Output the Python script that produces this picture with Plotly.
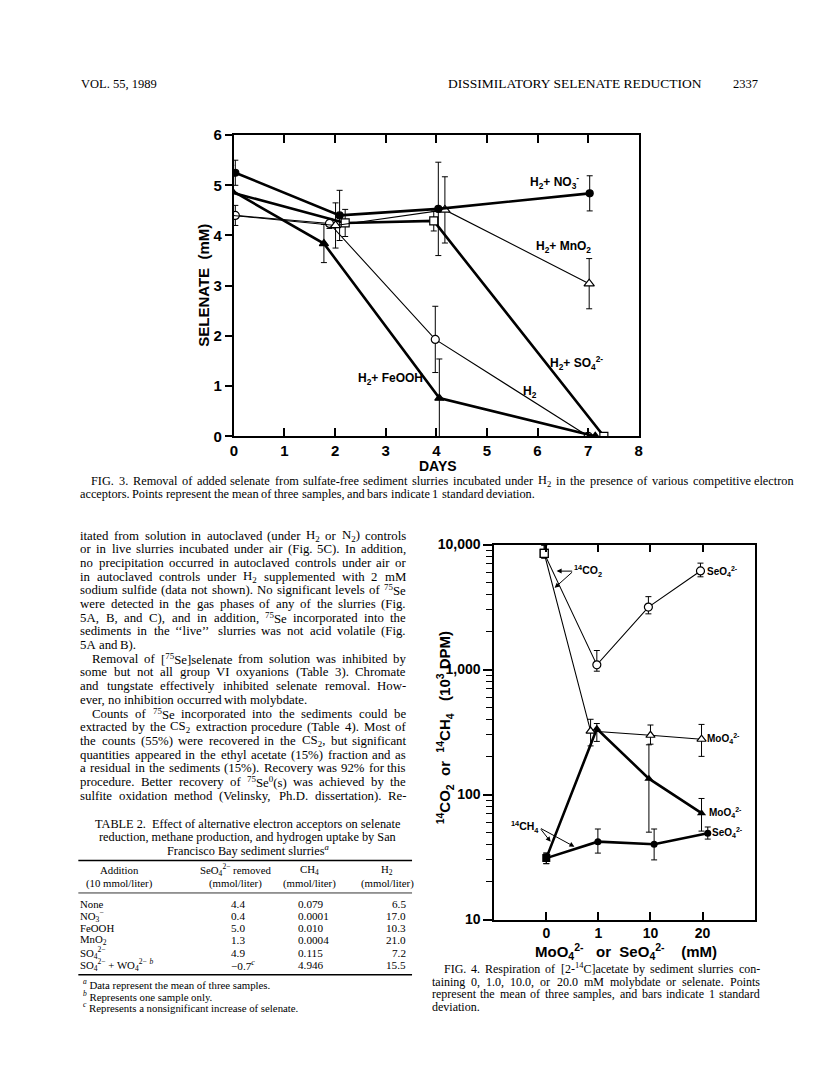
import re
import plotly.graph_objects as go

W, H = 816, 1078
def px(x): return x / W
def py(y): return 1 - y / H

# ---------------- FIG. 3 data (days, selenate mM, SD) ----------------
days_no3 = [0.03, 2.09, 4.04, 7.03]
sel_no3 = [5.25, 4.40, 4.53, 4.84]
sd_no3 = [0.25, 0.50, 0.93, 0.35]

days_mno2 = [-0.14, 2.01, 4.17, 7.02]
sel_mno2 = [4.41, 4.20, 4.51, 3.04]
sd_mno2 = [0.25, 0.45, 0.66, 0.50]

days_so4 = [-0.20, 2.20, 3.95, 7.31]
sel_so4 = [4.90, 4.25, 4.29, 0.0]
sd_so4 = [0.30, 0.27, 0.20, 0.0]

days_feooh = [-0.05, 1.78, 4.06, 7.14]
sel_feooh = [4.90, 3.84, 0.76, 0.0]
sd_feooh = [0.50, 0.38, 0.78, 0.0]

days_h2 = [0.03, 1.89, 3.98, 7.00]
sel_h2 = [4.40, 4.24, 1.93, 0.0]
sd_h2 = [0.20, 0.10, 0.66, 0.0]

# ---------------- FIG. 4 data (category index, 10^3 DPM) ----------------
conc_labels = ["0", "1", "10", "20"]

co2_se_x = [-0.04, 0.97, 1.96, 2.96]
co2_se_y = [8500, 1090, 3160, 6150]
co2_se_hi = [1400, 330, 670, 950]
co2_se_lo = [700, 120, 370, 630]

co2_mo_x = [-0.04, 0.85, 2.00, 2.98]
co2_mo_y = [8500, 322, 298, 277]
co2_mo_hi = [1400, 78, 62, 87]
co2_mo_lo = [700, 77, 45, 75]

ch4_mo_x = [0.0, 0.97, 1.97, 2.98]
ch4_mo_y = [31, 336, 134, 71]
ch4_mo_hi = [3, 34, 116, 22]
ch4_mo_lo = [3, 70, 84, 20]

ch4_se_x = [0.0, 0.99, 2.07, 3.10]
ch4_se_y = [31, 42, 40, 49]
ch4_se_hi = [3, 11, 13, 6]
ch4_se_lo = [3, 8, 10, 5]

# ---------------- TABLE 2 ----------------
tbl_addition = ["None", "NO<sub>3</sub><sup>−</sup>", "FeOOH", "MnO<sub>2</sub>",
                "SO<sub>4</sub><sup>2−</sup>",
                "SO<sub>4</sub><sup>2−</sup> + WO<sub>4</sub><sup>2−</sup> <sup><i>b</i></sup>"]
tbl_seo4 = ["4.4", "0.4", "5.0", "1.3", "4.9", "−0.7<sup><i>c</i></sup>"]
tbl_ch4 = ["0.079", "0.0001", "0.010", "0.0004", "0.115", "4.946"]
tbl_h2 = ["6.5", "17.0", "10.3", "21.0", "7.2", "15.5"]

# (text, indent, justified)
body_lines = [
    ("itated from solution in autoclaved (under H<sub>2</sub> or N<sub>2</sub>) controls", 0, True),
    ("or in live slurries incubated under air (Fig. 5C). In addition,", 0, True),
    ("no precipitation occurred in autoclaved controls under air or", 0, True),
    ("in autoclaved controls under H<sub>2</sub> supplemented with 2 mM", 0, True),
    ("sodium sulfide (data not shown). No significant levels of <sup>75</sup>Se", 0, True),
    ("were detected in the gas phases of any of the slurries (Fig.", 0, True),
    ("5A, B, and C), and in addition, <sup>75</sup>Se incorporated into the", 0, True),
    ("sediments in the ‘‘live’’ slurries was not acid volatile (Fig.", 0, True),
    ("5A and B).", 0, False),
    ("Removal of [<sup>75</sup>Se]selenate from solution was inhibited by", 12, True),
    ("some but not all group VI oxyanions (Table 3). Chromate", 0, True),
    ("and tungstate effectively inhibited selenate removal. How-", 0, True),
    ("ever, no inhibition occurred with molybdate.", 0, False),
    ("Counts of <sup>75</sup>Se incorporated into the sediments could be", 12, True),
    ("extracted by the CS<sub>2</sub> extraction procedure (Table 4). Most of", 0, True),
    ("the counts (55%) were recovered in the CS<sub>2</sub>, but significant", 0, True),
    ("quantities appeared in the ethyl acetate (15%) fraction and as", 0, True),
    ("a residual in the sediments (15%). Recovery was 92% for this", 0, True),
    ("procedure. Better recovery of <sup>75</sup>Se<sup>0</sup>(s) was achieved by the", 0, True),
    ("sulfite oxidation method (Velinsky, Ph.D. dissertation). Re-", 0, True),
]

fig3_caption = [
    ("FIG. 3.  Removal of added selenate from sulfate-free sediment slurries incubated under H<sub>2</sub> in the presence of various competitive electron", 11, True),
    ("acceptors. Points represent the mean of three samples, and bars indicate 1 standard deviation.", 0, False),
]
fig4_caption = [
    ("FIG. 4.  Respiration of [2-<sup>14</sup>C]acetate by sediment slurries con-", 12, True),
    ("taining 0, 1.0, 10.0, or 20.0 mM molybdate or selenate. Points", 0, True),
    ("represent the mean of three samples, and bars indicate 1 standard", 0, True),
    ("deviation.", 0, False),
]

SANS = "Liberation Sans"
SERIF = "Liberation Serif"
BLK = "black"

# Times / Liberation Serif advance widths (per 1000 em) for word placement
_TW = {' ': 250, '.': 250, ',': 250, '(': 333, ')': 333, '-': 333, '%': 833, '[': 333, ']': 333,
       '‘': 333, '’': 333, '−': 564, '+': 564, '/': 278}
for c in "0123456789":
    _TW[c] = 500
_TW.update(dict(zip("abcdefghijklmnopqrstuvwxyz",
                    [444, 500, 444, 500, 444, 333, 500, 500, 278, 278, 500, 278, 778, 500, 500, 500,
                     500, 333, 389, 278, 500, 500, 722, 500, 500, 444])))
_TW.update(dict(zip("ABCDEFGHIJKLMNOPQRSTUVWXYZ",
                    [722, 667, 667, 722, 611, 556, 722, 722, 333, 389, 722, 611, 889, 722, 722, 556,
                     722, 667, 556, 611, 722, 722, 944, 722, 722, 611])))

def _plain_w(s):
    s = re.sub(r"<[^>]+>", "", s)
    return sum(_TW.get(c, 500) for c in s) / 1000.0

def html_w(h, size):
    total, pos = 0.0, 0
    for m in re.finditer(r"<(sup|sub)>(.*?)</\1>", h):
        total += _plain_w(h[pos:m.start()]) * size
        total += _plain_w(m.group(2)) * size * 0.7
        pos = m.end()
    total += _plain_w(h[pos:]) * size
    return total

fig = go.Figure()

def marker(sym, filled, size=8):
    return dict(symbol=sym, size=size, color=BLK if filled else "white",
                line=dict(color=BLK, width=1.2))

def err(arr, lo=None):
    d = dict(type="data", array=arr, visible=True, color=BLK, thickness=1, width=3)
    if lo is not None:
        d["symmetric"] = False
        d["arrayminus"] = lo
    return d

# Fig 3 traces
fig.add_trace(go.Scatter(x=days_so4, y=sel_so4, mode="lines+markers", error_y=err(sd_so4),
                         line=dict(color=BLK, width=2.6), marker=marker("square", False, 8),
                         xaxis="x", yaxis="y", showlegend=False))
fig.add_trace(go.Scatter(x=days_h2, y=sel_h2, mode="lines+markers", error_y=err(sd_h2),
                         line=dict(color=BLK, width=1.1), marker=marker("circle", False, 8),
                         xaxis="x", yaxis="y", showlegend=False))
fig.add_trace(go.Scatter(x=days_mno2, y=sel_mno2, mode="lines+markers", error_y=err(sd_mno2),
                         line=dict(color=BLK, width=1.1), marker=marker("triangle-up", False, 9),
                         xaxis="x", yaxis="y", showlegend=False))
fig.add_trace(go.Scatter(x=days_feooh, y=sel_feooh, mode="lines+markers", error_y=err(sd_feooh),
                         line=dict(color=BLK, width=2.6), marker=marker("triangle-up", True, 8),
                         xaxis="x", yaxis="y", showlegend=False))
fig.add_trace(go.Scatter(x=days_no3, y=sel_no3, mode="lines+markers", error_y=err(sd_no3),
                         line=dict(color=BLK, width=2.6), marker=marker("circle", True, 7),
                         xaxis="x", yaxis="y", showlegend=False))

# Fig 4 traces
fig.add_trace(go.Scatter(x=co2_se_x, y=co2_se_y, mode="lines+markers",
                         error_y=err(co2_se_hi, co2_se_lo),
                         line=dict(color=BLK, width=1.1),
                         marker=dict(symbol=["square", "circle", "circle", "circle"], size=8,
                                     color="white", line=dict(color=BLK, width=1.2)),
                         xaxis="x2", yaxis="y2", showlegend=False))
fig.add_trace(go.Scatter(x=co2_mo_x, y=co2_mo_y, mode="lines+markers",
                         error_y=err(co2_mo_hi, co2_mo_lo),
                         line=dict(color=BLK, width=1.1),
                         marker=dict(symbol=["square", "triangle-up", "triangle-up", "triangle-up"],
                                     size=8, color="white", line=dict(color=BLK, width=1.2)),
                         xaxis="x2", yaxis="y2", showlegend=False))
fig.add_trace(go.Scatter(x=ch4_mo_x, y=ch4_mo_y, mode="lines+markers",
                         error_y=err(ch4_mo_hi, ch4_mo_lo),
                         line=dict(color=BLK, width=2.6),
                         marker=dict(symbol=["square", "triangle-up", "triangle-up", "triangle-up"],
                                     size=8, color=BLK),
                         xaxis="x2", yaxis="y2", showlegend=False))
fig.add_trace(go.Scatter(x=ch4_se_x, y=ch4_se_y, mode="lines+markers",
                         error_y=err(ch4_se_hi, ch4_se_lo),
                         line=dict(color=BLK, width=2.6),
                         marker=dict(symbol=["square", "circle", "circle", "circle"], size=7, color=BLK),
                         xaxis="x2", yaxis="y2", showlegend=False))

tickfont = dict(family=SANS, size=15, color=BLK, weight="bold")
minor_vals = [m * 10 ** k for k in range(1, 4) for m in range(2, 10)]

fig.update_layout(
    width=W, height=H, margin=dict(l=0, r=0, t=0, b=0),
    paper_bgcolor="white", plot_bgcolor="white", showlegend=False,
    xaxis=dict(domain=[px(224), px(633)], range=[0, 8], dtick=1, anchor="y",
               showline=True, linecolor=BLK, linewidth=2, mirror="ticks",
               ticks="inside", ticklen=8, tickwidth=1.5, tickcolor=BLK,
               showgrid=False, zeroline=False, tickfont=tickfont),
    yaxis=dict(domain=[py(426), py(120)], range=[0, 6], dtick=1, anchor="x",
               showline=True, linecolor=BLK, linewidth=2, mirror=True,
               ticks="outside", ticklen=7, tickwidth=1.5, tickcolor=BLK,
               showgrid=False, zeroline=False, tickfont=tickfont),
    yaxis3=dict(overlaying="y", side="right", anchor="x", range=[0, 6],
                tickvals=[1, 2, 3, 4, 5], ticks="inside", ticklen=8, tickwidth=1.5,
                tickcolor=BLK, showticklabels=False, showline=False,
                showgrid=False, zeroline=False),
    xaxis2=dict(domain=[px(487), px(750)], range=[-1, 4], anchor="y2",
                tickvals=[0, 1, 2, 3], ticktext=conc_labels,
                showline=True, linecolor=BLK, linewidth=1.8, mirror="ticks",
                ticks="inside", ticklen=8, tickwidth=1.5, tickcolor=BLK,
                showgrid=False, zeroline=False, tickfont=dict(family=SANS, size=14, color=BLK, weight="bold")),
    yaxis2=dict(domain=[py(917), py(536)], type="log", range=[1, 4], anchor="x2",
                tickvals=[10, 100, 1000, 10000], ticktext=["10", "100", "1,000", "10,000"],
                showline=True, linecolor=BLK, linewidth=1.8, mirror=True,
                ticks="outside", ticklen=9, tickwidth=1.5, tickcolor=BLK,
                minor=dict(tickvals=minor_vals, ticks="outside", ticklen=6, tickwidth=1, tickcolor=BLK,
                           showgrid=False),
                showgrid=False, zeroline=False, tickfont=dict(family=SANS, size=14, color=BLK, weight="bold")),
)

ann = []
def text(x, y, s, size=12, family=SERIF, anchor="left", bold=False, angle=0, vanchor="middle"):
    f = dict(family=family, size=size, color=BLK)
    if bold:
        f["weight"] = "bold"
    ann.append(dict(x=px(x), y=py(y), xref="paper", yref="paper", text=s, showarrow=False,
                    xanchor=anchor, yanchor=vanchor, font=f, textangle=angle,
                    borderpad=0, borderwidth=0))

def paragraph_line(x0, x1, y, line, indent, justify, size):
    """Place a line word by word so that justified lines span x0+indent .. x1."""
    words = [w for w in line.split(" ") if w != ""]
    widths = [html_w(w, size) for w in words]
    start = x0 + indent
    if justify and len(words) > 1:
        gap = (x1 - start - sum(widths)) / (len(words) - 1)
    else:
        gap = 0.25 * size
    x = start
    for k, (w, wd) in enumerate(zip(words, widths)):
        if justify and k == len(words) - 1 and len(words) > 1:
            text(x1, y, w, size=size, anchor="right")
        else:
            text(x, y, w, size=size)
        x += wd + gap

def arrow(x0, y0, x1, y1):
    ann.append(dict(x=px(x1), y=py(y1), xref="paper", yref="paper", ax=x0 - x1, ay=y0 - y1,
                    axref="pixel", ayref="pixel", text="", showarrow=True, arrowhead=2,
                    arrowsize=1, arrowwidth=1, arrowcolor=BLK))

# Header
text(70, 68, "VOL. 55, 1989", size=12.5)
text(440, 68, "DISSIMILATORY SELENATE REDUCTION", size=13.5)
text(753, 68, "2337", size=12.5, anchor="right")

# Fig 3 text
text(194, 273, "SELENATE  (mM)", size=15, family=SANS, bold=True, anchor="center", angle=-90)
text(430, 456, "DAYS", size=14, family=SANS, bold=True, anchor="center")
text(548, 168, "H<sub>2</sub>+ NO<sub>3</sub><sup>-</sup>", size=12, family=SANS, bold=True, anchor="center")
text(557, 234, "H<sub>2</sub>+ MnO<sub>2</sub>", size=12, family=SANS, bold=True, anchor="center")
text(382, 368, "H<sub>2</sub>+ FeOOH", size=12, family=SANS, bold=True, anchor="center")
text(523, 381, "H<sub>2</sub>", size=12, family=SANS, bold=True, anchor="center")
text(570, 352, "H<sub>2</sub>+ SO<sub>4</sub><sup>2-</sup>", size=12, family=SANS, bold=True, anchor="center")

for i, (ln, ind, jus) in enumerate(fig3_caption):
    paragraph_line(69, 790, 471 + 14 * i, ln, ind, jus, 12.3)

# Body text
for i, (ln, ind, jus) in enumerate(body_lines):
    paragraph_line(69, 398, 527 + 13.9 * i, ln, ind, jus, 12.8)

# Table 2
tcx = 238
text(tcx, 820, "TABLE 2.  Effect of alternative electron acceptors on selenate", size=12.3, anchor="center")
text(tcx, 833, "reduction, methane production, and hydrogen uptake by San", size=12.3, anchor="center")
text(tcx, 846, "Francisco Bay sediment slurries<sup><i>a</i></sup>", size=12.3, anchor="center")
hy1, hy2 = 867, 880
text(109, hy1, "Addition", size=10.8, anchor="center")
text(109, hy2, "(10 mmol/liter)", size=10.8, anchor="center")
text(226, hy1, "SeO<sub>4</sub><sup>2−</sup> removed", size=10.8, anchor="center")
text(226, hy2, "(mmol/liter)", size=10.8, anchor="center")
text(300, hy1, "CH<sub>4</sub>", size=10.8, anchor="center")
text(300, hy2, "(mmol/liter)", size=10.8, anchor="center")
text(379, hy1, "H<sub>2</sub>", size=10.8, anchor="center")
text(379, hy2, "(mmol/liter)", size=10.8, anchor="center")
for i in range(len(tbl_addition)):
    yy = 901 + 12.4 * i
    text(69, yy, tbl_addition[i], size=10.8)
    text(221, yy, tbl_seo4[i], size=11.2)
    text(289, yy, tbl_ch4[i], size=11.2)
    text(398, yy, tbl_h2[i], size=11.2, anchor="right")
text(72, 983, "<sup><i>a</i></sup> Data represent the mean of three samples.", size=10.8)
text(72, 994.5, "<sup><i>b</i></sup> Represents one sample only.", size=10.8)
text(72, 1006, "<sup><i>c</i></sup> Represents a nonsignificant increase of selenate.", size=10.8)

shapes = []
for yy, w in [(857, 1.5), (890, 0.8), (973, 1.5)]:
    shapes.append(dict(type="line", xref="paper", yref="paper", x0=px(67), x1=px(404),
                       y0=py(yy), y1=py(yy), line=dict(color=BLK, width=w)))

# Fig 4 text
text(437, 722, "<sup>14</sup>CO<sub>2</sub>  or  <sup>14</sup>CH<sub>4</sub>   (10<sup>3</sup> DPM)",
     size=15, family=SANS, bold=True, anchor="center", angle=-90)
text(620, 949, "MoO<sub>4</sub><sup>2-</sup>   or  SeO<sub>4</sub><sup>2-</sup>    (mM)",
     size=15, family=SANS, bold=True, anchor="center")
text(702, 563, "SeO<sub>4</sub><sup>2-</sup>", size=10, family=SANS, bold=True)
text(702, 733, "MoO<sub>4</sub><sup>2-</sup>", size=10, family=SANS, bold=True)
text(704, 808, "MoO<sub>4</sub><sup>2-</sup>", size=10, family=SANS, bold=True)
text(707, 829, "SeO<sub>4</sub><sup>2-</sup>", size=10, family=SANS, bold=True)
text(568, 563, "<sup>14</sup>CO<sub>2</sub>", size=10.5, family=SANS, bold=True)
text(532, 823, "<sup>14</sup>CH<sub>4</sub>", size=10.5, family=SANS, bold=True, anchor="right")
arrow(567, 563, 550, 563)
arrow(567, 563, 548, 580)
arrow(533, 824, 544, 838)
arrow(533, 824, 568, 843)

for i, (ln, ind, jus) in enumerate(fig4_caption):
    paragraph_line(424, 755, 967 + 13 * i, ln, ind, jus, 12.0)

fig.update_layout(annotations=ann, shapes=shapes)
fig.write_html("out.html")
